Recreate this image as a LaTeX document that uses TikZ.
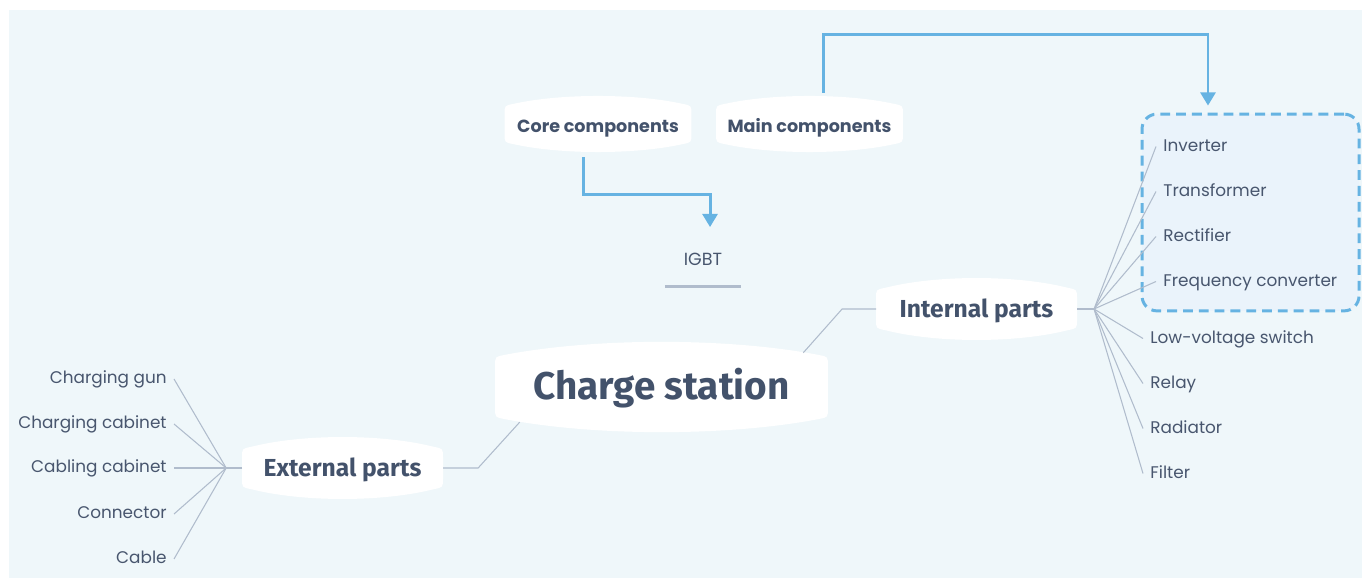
\documentclass[tikz,border=0pt]{standalone}
\usepackage{fontspec}
\setmainfont{Poppins}
\newfontfamily\firafont{Fira Sans}
\usetikzlibrary{arrows.meta,calc}

\definecolor{fondo}{RGB}{239,247,250}
\definecolor{texto}{RGB}{67,82,107}
\definecolor{hoja}{RGB}{72,86,110}
\definecolor{rama}{RGB}{176,188,204}
\definecolor{flecha}{RGB}{102,179,226}
\definecolor{grupo}{RGB}{234,243,251}

\pgfdeclarelayer{fondocapa}
\pgfdeclarelayer{burbujas}
\pgfsetlayers{fondocapa,burbujas,main}

\tikzset{
  central/.style={inner sep=0pt, minimum width=189pt, minimum height=34pt, text=texto,
    text height=14.8pt, text depth=0pt, font=\firafont\bfseries\fontsize{22}{26}\selectfont},
  part/.style={inner sep=0pt, minimum width=114pt, minimum height=21.6pt, text=texto,
    text height=9.2pt, text depth=0pt, font=\firafont\bfseries\fontsize{14}{17}\selectfont},
  tag/.style={inner sep=0pt, minimum width=106pt, minimum height=20.5pt, text=texto,
    text height=9.6pt, text depth=0pt, font=\bfseries\fontsize{10}{12}\selectfont},
  leaf/.style={inner xsep=4pt, inner ysep=1pt, text=hoja, text height=7pt, text depth=1.6pt,
    font=\fontsize{9.6}{11}\selectfont},
  twig/.style={draw=rama, line width=0.6pt},
  flow/.style={draw=flecha, line width=1.7pt, -{Triangle[length=7.5pt,width=8.5pt]}},
  groupbox/.style={draw=flecha, fill=grupo, line width=1.7pt, dash pattern=on 5.6pt off 3.4pt,
    rounded corners=8.5pt, minimum width=123.5pt, minimum height=112pt, inner sep=0pt},
  igbtline/.style={draw=rama, line width=1.7pt}
}

% burbuja blanca detras de un nodo: nombre, altura de control
\newcommand{\burbuja}[2]{%
  \begin{pgfonlayer}{burbujas}
    \fill[white] ([yshift=5pt]#1.south west) -- ([yshift=-5pt]#1.north west)
      .. controls (#1.north west) .. ([xshift=5pt,yshift=1pt]#1.north west)
      .. controls ([yshift=#2]$(#1.north west)!0.3!(#1.north east)$)
         and ([yshift=#2]$(#1.north west)!0.7!(#1.north east)$) .. ([xshift=-5pt,yshift=1pt]#1.north east)
      .. controls (#1.north east) .. ([yshift=-5pt]#1.north east)
      -- ([yshift=5pt]#1.south east)
      .. controls (#1.south east) .. ([xshift=-5pt,yshift=-1pt]#1.south east)
      .. controls ([yshift=-#2]$(#1.south west)!0.7!(#1.south east)$)
         and ([yshift=-#2]$(#1.south west)!0.3!(#1.south east)$) .. ([xshift=5pt,yshift=-1pt]#1.south west)
      .. controls (#1.south west) .. ([yshift=5pt]#1.south west) -- cycle;
  \end{pgfonlayer}}

\begin{document}
\begin{tikzpicture}[x=0.02cm, y=-0.02cm]
    % Fondo
    \useasboundingbox (0,0) rectangle (1362,580);
    \begin{pgfonlayer}{fondocapa}
      \fill[fondo] (9,10) rectangle (1362,578);
    \end{pgfonlayer}

    % Nodo central y partes
    \node[central] (charge) at (661.5,387) {Charge station};
    \node[part] (intern) at (976.5,309) {Internal parts};
    \node[part] (extern) at (342.5,468) {External parts};
    \burbuja{charge}{11pt}
    \burbuja{intern}{8.5pt}
    \burbuja{extern}{8.5pt}

    % Componentes
    \node[tag] (core) at (598,124) {Core components};
    \node[tag] (main) at (809.5,124) {Main components};
    \burbuja{core}{7pt}
    \burbuja{main}{7pt}

    % IGBT subrayado
    \node[leaf, minimum width=43pt, inner ysep=10pt, font=\fontsize{10}{12}\selectfont] (igbt) at (703,261) {IGBT};
    \draw[igbtline] (igbt.south west) -- (igbt.south east);

    % Grupo punteado
    \node[groupbox] (grp) at (1250.5,212.5) {};

    % Hojas internas
    \foreach \nom/\txt/\y in {inv/Inverter/146.5, trafo/Transformer/191.5, rect/Rectifier/236.5,
        freq/Frequency converter/281.5}
      \node[leaf, anchor=west] (\nom) at (1156,\y) {\txt};
    \foreach \nom/\txt/\y in {lvs/Low-voltage switch/338.5, relay/Relay/383.5, rad/Radiator/428.5,
        filt/Filter/473.5}
      \node[leaf, anchor=west] (\nom) at (1143,\y) {\txt};

    % Hojas externas
    \foreach \nom/\txt/\y in {gun/Charging gun/379, chcab/Charging cabinet/424,
        cbcab/Cabling cabinet/468, conn/Connector/514, cable/Cable/559}
      \node[leaf, anchor=east] (\nom) at (174,\y) {\txt};

    % Ramas
    \draw[twig] ([xshift=-14pt,yshift=2.3pt]charge.north east) -- ([xshift=-19.3pt]intern.west) -- (intern.west);
    \draw[twig] ([xshift=14pt,yshift=-2.8pt]charge.south west) -- ([xshift=20pt]extern.east) -- (extern.east);
    \coordinate (inhub) at ([xshift=9.7pt]intern.east);
    \coordinate (exhub) at ([xshift=-9pt]extern.west);
    \draw[twig] (intern.east) -- (inhub);
    \draw[twig] (extern.west) -- (exhub);
    \foreach \nom in {inv,trafo,rect,freq,lvs,relay,rad,filt}
      \draw[twig] (inhub) -- (\nom.west);
    \foreach \nom in {gun,chcab,cbcab,conn,cable}
      \draw[twig] (exhub) -- (\nom.east);

    % Flechas
    \draw[flow] ([xshift=8.2pt,yshift=7.4pt]main.north) -- ++(0,-58) -| ([xshift=-24.2pt,yshift=4pt]grp.north);
    \draw[flow] ([xshift=-8.5pt,yshift=-8.5pt]core.south) -- ++(0,37) -| ([xshift=4pt,yshift=4.8pt]igbt.north);
  \end{tikzpicture}
\end{document}
